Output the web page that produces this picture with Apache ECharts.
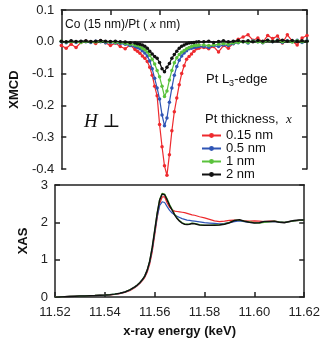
<!DOCTYPE html>
<html><head><meta charset="utf-8">
<script src="https://cdn.jsdelivr.net/npm/echarts@6/dist/echarts.min.js"></script>
<style>html,body{margin:0;padding:0;background:#fff}#c{width:323px;height:340px}</style>
</head><body><div id="c"></div>
<script>
// x-ray energy grid (keV)
const energy = [
 11.520,11.522,11.524,11.526,11.528,11.530,11.532,11.534,11.536,11.538,11.540,11.542,11.544,11.546,11.548,11.550,
 11.551,11.552,11.553,11.554,11.555,11.556,11.557,11.558,11.559,11.560,11.561,11.562,11.563,11.564,11.565,11.566,11.567,11.568,11.569,11.570,11.571,11.572,11.573,11.574,11.575,11.576,
 11.578,11.580,11.582,11.584,11.586,11.588,11.590,11.592,11.594,11.596,11.598,11.600,11.602,11.604,11.606,11.608,11.610,11.612,11.614,11.616,11.618,11.620];
const seriesNames = ['0.15 nm','0.5 nm','1 nm','2 nm'];
// XMCD values
const xmcd015 = [
 -0.012,-0.02,-0.008,-0.018,-0.002,0.002,0.0,-0.005,0.003,-0.003,-0.012,-0.004,-0.015,-0.022,-0.01,-0.024,
 -0.03,-0.036,-0.045,-0.052,-0.062,-0.08,-0.105,-0.14,-0.17,-0.26,-0.33,-0.39,-0.42,-0.355,-0.28,-0.22,-0.177,-0.135,-0.1,-0.075,-0.055,-0.046,-0.038,-0.03,-0.022,-0.02,
 -0.018,-0.022,-0.015,-0.032,-0.012,-0.02,-0.005,0.008,0.015,0.022,0.005,0.012,-0.002,0.02,0.01,0.018,-0.004,0.022,0.002,-0.01,0.012,0.02];
const xmcd05 = [
 0.0,-0.003,0.002,-0.002,0.001,0.0,-0.002,0.002,0.0,-0.003,-0.002,-0.004,-0.005,-0.008,-0.012,-0.015,
 -0.018,-0.022,-0.028,-0.035,-0.045,-0.06,-0.085,-0.115,-0.145,-0.18,-0.23,-0.264,-0.24,-0.19,-0.145,-0.105,-0.078,-0.058,-0.045,-0.035,-0.028,-0.022,-0.02,-0.018,-0.016,-0.015,
 -0.015,-0.018,-0.012,-0.015,-0.01,-0.012,-0.006,-0.003,0.0,-0.004,0.003,0.0,-0.003,0.004,0.0,0.006,-0.002,0.003,0.0,0.005,-0.002,0.003];
const xmcd1 = [
 0.002,-0.001,0.001,0.0,-0.002,0.001,0.0,-0.001,0.002,0.0,-0.001,-0.002,-0.003,-0.005,-0.008,-0.01,
 -0.012,-0.015,-0.02,-0.025,-0.032,-0.042,-0.055,-0.07,-0.09,-0.11,-0.14,-0.172,-0.155,-0.12,-0.09,-0.066,-0.05,-0.04,-0.033,-0.027,-0.022,-0.018,-0.015,-0.012,-0.012,-0.01,
 -0.01,-0.012,-0.01,-0.008,-0.006,-0.008,-0.004,-0.002,0.0,-0.002,0.002,0.0,-0.002,0.003,0.001,0.004,0.0,0.002,-0.001,0.003,0.0,0.002];
const xmcd2 = [
 0.002,0.0,0.003,0.001,0.002,0.003,0.001,0.002,0.004,0.002,0.001,0.002,0.0,-0.001,-0.003,-0.004,
 -0.006,-0.008,-0.01,-0.014,-0.02,-0.03,-0.038,-0.046,-0.052,-0.065,-0.085,-0.094,-0.08,-0.068,-0.052,-0.04,-0.03,-0.02,-0.014,-0.01,-0.006,-0.004,-0.003,-0.002,-0.001,0.0,
 0.0,0.002,-0.002,0.001,0.003,0.0,0.002,0.004,0.001,0.003,0.0,0.004,0.002,0.005,0.001,0.003,0.005,0.002,0.004,0.001,0.003,0.002];
// XAS values
const xas015 = [
 -0.01,0.0,0.01,0.015,0.02,0.025,0.03,0.035,0.04,0.045,0.05,0.058,0.07,0.09,0.12,0.17,
 0.21,0.25,0.3,0.36,0.43,0.52,0.66,0.88,1.2,1.65,2.12,2.5,2.68,2.68,2.52,2.4,2.34,2.3,2.29,2.28,2.27,2.26,2.24,2.22,2.2,2.19,
 2.15,2.12,2.08,2.04,2.02,2.03,2.05,2.06,2.05,2.04,2.03,2.04,2.03,2.02,2.03,2.03,2.01,2.0,2.02,2.04,2.05,2.05];
const xas05 = [
 -0.01,0.0,0.01,0.015,0.02,0.025,0.03,0.035,0.04,0.046,0.052,0.06,0.075,0.095,0.13,0.18,
 0.22,0.26,0.31,0.37,0.45,0.55,0.7,0.93,1.27,1.72,2.15,2.45,2.55,2.53,2.42,2.32,2.25,2.2,2.16,2.13,2.1,2.08,2.06,2.05,2.04,2.03,
 2.01,1.99,1.98,1.97,1.96,1.97,1.99,2.02,2.04,2.02,2.0,1.99,1.99,2.01,2.02,2.02,2.01,2.0,2.02,2.04,2.05,2.06];
const xas1 = [
 -0.01,0.0,0.01,0.015,0.02,0.025,0.03,0.036,0.041,0.047,0.053,0.062,0.077,0.1,0.135,0.19,
 0.23,0.27,0.32,0.38,0.46,0.56,0.72,0.96,1.32,1.78,2.25,2.62,2.78,2.76,2.63,2.48,2.35,2.22,2.12,2.04,1.99,1.96,1.95,1.96,1.98,1.97,
 1.94,1.92,1.92,1.93,1.94,1.96,2.0,2.05,2.06,2.03,2.01,1.99,1.98,2.0,2.01,2.03,2.01,2.0,2.02,2.04,2.05,2.06];
const xas2 = [
 -0.01,0.0,0.01,0.015,0.02,0.025,0.03,0.036,0.041,0.047,0.053,0.062,0.077,0.1,0.135,0.19,
 0.23,0.27,0.32,0.38,0.46,0.56,0.72,0.96,1.32,1.78,2.24,2.6,2.76,2.74,2.6,2.45,2.33,2.2,2.1,2.03,1.98,1.95,1.94,1.95,1.97,1.96,
 1.93,1.92,1.92,1.92,1.93,1.95,1.99,2.05,2.07,2.03,2.0,1.98,1.99,2.02,2.02,2.03,2.0,1.99,2.02,2.05,2.06,2.06];
// axis ticks
const xTicks = [11.52, 11.62, 0.02];
const xmcdTicks = [-0.4, 0.1, 0.1];
const xasTicks = [0, 3, 1];

const colors = ['#ee2a2e', '#2f55b5', '#5ac23c', '#111111'];
const FONT = '"Liberation Sans", Arial, sans-serif';
const AX = '#222';
const pair = arr => energy.map((e, i) => [e, arr[i]]);

const xmcdData = [xmcd015, xmcd05, xmcd1, xmcd2];
const xasData = [xas015, xas05, xas1, xas2];

const axisLine = {show: true, onZero: false, lineStyle: {color: AX, width: 1.5}};
const tickIn = {show: true, inside: true, length: 5, lineStyle: {color: AX, width: 1.5}};
const lbl = {color: '#222', fontSize: 13, fontFamily: FONT};

const series = [];
xmcdData.forEach((d, i) => {
  const s = {
    name: seriesNames[i], type: 'line', xAxisIndex: 0, yAxisIndex: 0,
    data: pair(d), symbol: 'circle', symbolSize: 3.5, showSymbol: true,
    color: colors[i], lineStyle: {width: 1.2, color: colors[i]}, itemStyle: {color: colors[i]},
    clip: false, animation: false, z: 3 + i
  };
  if (i === 0) {
    s.markLine = {silent: true, symbol: 'none', label: {show: false},
      lineStyle: {color: '#000', width: 1.5, type: 'solid'}, data: [{yAxis: 0}]};
  }
  series.push(s);
});
xasData.forEach((d, i) => {
  series.push({
    name: seriesNames[i], type: 'line', xAxisIndex: 1, yAxisIndex: 2,
    data: pair(d), symbol: 'none', showSymbol: false,
    lineStyle: {width: i === 3 ? 1.5 : 1.2, color: colors[i]}, itemStyle: {color: colors[i]},
    animation: false, z: 3 + i
  });
});

const chart = echarts.init(document.getElementById('c'), null, {renderer: 'canvas'});
chart.setOption({
  animation: false,
  backgroundColor: '#fff',
  grid: [
    {left: 55, right: 16, top: 10, height: 159},
    {left: 55, right: 16, top: 185, height: 112}
  ],
  xAxis: [
    {type: 'value', gridIndex: 0, position: 'top', min: xTicks[0], max: xTicks[1], interval: xTicks[2],
     axisLine: axisLine, axisTick: tickIn, axisLabel: {show: false}, splitLine: {show: false}},
    {type: 'value', gridIndex: 1, position: 'bottom', min: xTicks[0], max: xTicks[1], interval: xTicks[2],
     axisLine: axisLine, axisTick: tickIn,
     axisLabel: Object.assign({margin: 9, showMinLabel: true, showMaxLabel: true, formatter: v => v.toFixed(2)}, lbl),
     splitLine: {show: false},
     name: 'x-ray energy (keV)', nameLocation: 'middle', nameGap: 28,
     nameTextStyle: {color: '#111', fontSize: 13, fontWeight: 'bold', fontFamily: FONT}},
    {type: 'value', gridIndex: 1, position: 'top', min: xTicks[0], max: xTicks[1], interval: xTicks[2],
     axisLine: axisLine, axisTick: {show: false}, axisLabel: {show: false}, splitLine: {show: false}}
  ],
  yAxis: [
    {type: 'value', gridIndex: 0, position: 'left', min: xmcdTicks[0], max: xmcdTicks[1], interval: xmcdTicks[2],
     axisLine: axisLine, axisTick: tickIn,
     axisLabel: Object.assign({margin: 7, formatter: v => v.toFixed(1)}, lbl), splitLine: {show: false},
     name: 'XMCD', nameLocation: 'middle', nameGap: 38, nameRotate: 90,
     nameTextStyle: {color: '#111', fontSize: 13, fontWeight: 'bold', fontFamily: FONT}},
    {type: 'value', gridIndex: 0, position: 'right', min: xmcdTicks[0], max: xmcdTicks[1], interval: xmcdTicks[2],
     axisLine: axisLine, axisTick: tickIn, axisLabel: {show: false}, splitLine: {show: false}},
    {type: 'value', gridIndex: 1, position: 'left', min: xasTicks[0], max: xasTicks[1], interval: xasTicks[2],
     axisLine: axisLine, axisTick: tickIn,
     axisLabel: Object.assign({margin: 7, formatter: v => String(v)}, lbl), splitLine: {show: false},
     name: 'XAS', nameLocation: 'middle', nameGap: 18, nameRotate: 90,
     nameTextStyle: {color: '#111', fontSize: 13, fontWeight: 'bold', fontFamily: FONT}},
    {type: 'value', gridIndex: 1, position: 'right', min: xasTicks[0], max: xasTicks[1], interval: xasTicks[2],
     axisLine: axisLine, axisTick: tickIn, axisLabel: {show: false}, splitLine: {show: false}}
  ],
  legend: {
    data: seriesNames, orient: 'vertical', left: 201, top: 129,
    itemWidth: 19, itemHeight: 6, itemGap: 0, padding: 0,
    textStyle: {color: '#111', fontSize: 13, fontFamily: FONT, lineHeight: 11}
  },
  graphic: [
    {type: 'text', left: 65, top: 18, silent: true,
     style: {text: '{a|Co (15 nm)/Pt ( }{i|x}{a| nm)}', rich: {
       a: {fontSize: 12, fontFamily: FONT, fill: '#111'},
       i: {fontSize: 13, fontFamily: '"Liberation Serif", serif', fontStyle: 'italic', fill: '#111'}}}},
    {type: 'text', left: 206, top: 73, silent: true,
     style: {text: '{a|Pt L}{s|3}{a|-edge}', rich: {
       a: {fontSize: 13, fontFamily: FONT, fill: '#111'},
       s: {fontSize: 9, fontFamily: FONT, fill: '#111', padding: [8, 0, 0, 0]}}}},
    {type: 'text', left: 205, top: 113, silent: true,
     style: {text: '{a|Pt thickness,}{b|  }{i|x}', rich: {
       a: {fontSize: 13, fontFamily: FONT, fill: '#111'},
       b: {fontSize: 13, fontFamily: FONT},
       i: {fontSize: 13, fontFamily: '"Liberation Serif", serif', fontStyle: 'italic', fill: '#111'}}}},
    {type: 'text', left: 84, top: 112, silent: true,
     style: {text: 'H ⊥', fontSize: 19, fontFamily: '"Liberation Serif", "DejaVu Serif", serif', fontStyle: 'italic', fill: '#111'}}
  ],
  series: series
});
</script></body></html>
